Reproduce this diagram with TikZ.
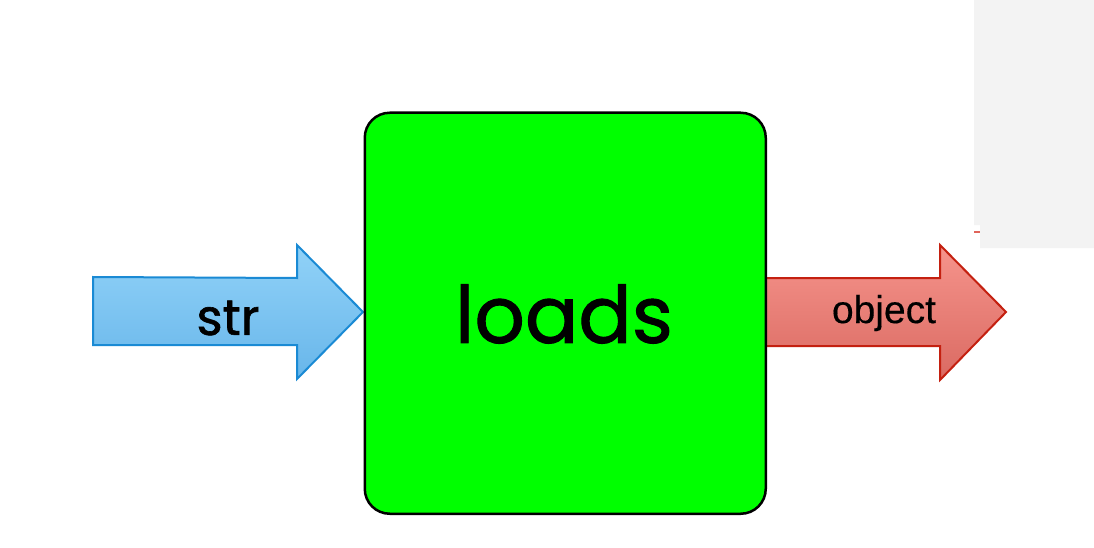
\documentclass[tikz,border=0pt]{standalone}
\usepackage{fontspec}
\newfontfamily\roundfont{Poppins}[FakeBold=1.2]
\newfontfamily\arialfont{Liberation Sans}[FakeBold=0.3]
\definecolor{boxgreen}{RGB}{0,255,0}
\definecolor{panelgray}{RGB}{243,243,243}
\definecolor{dashred}{RGB}{224,100,90}
\definecolor{blueline}{RGB}{26,138,212}
\definecolor{bluetop}{RGB}{145,210,248}
\definecolor{bluebot}{RGB}{104,182,234}
\definecolor{redline}{RGB}{196,32,16}
\definecolor{redtop}{RGB}{246,148,140}
\definecolor{redbot}{RGB}{218,106,98}
\begin{document}
\begin{tikzpicture}[x=1pt,y=-1pt,
  boxstyle/.style={draw=black,line width=2.5pt,fill=boxgreen,rounded corners=25pt},
  inarrow/.style={draw=blueline,line width=2pt,line join=miter,top color=bluetop,bottom color=bluebot},
  outarrow/.style={draw=redline,line width=2pt,line join=miter,top color=redtop,bottom color=redbot},
  lbl/.style={inner sep=0pt,text=black}]
\useasboundingbox (0,0) rectangle (1094,548);
% gray panel top right
\fill[panelgray] (974,0) -- (1094,0) -- (1094,248) -- (980,248) -- (980,225) -- (974,225) -- cycle;
\fill[dashred] (974,231) rectangle (980,233);
% input arrow
\path[inarrow] (93,277) -- (297,278) -- (297,245) -- (363,312) -- (297,379) -- (297,345) -- (93,345) -- cycle;
% output arrow
\path[outarrow] (763,278) -- (940,278) -- (940,245) -- (1006,312) -- (940,380) -- (940,346) -- (763,346) -- cycle;
% box
\node[boxstyle,minimum width=401pt,minimum height=401pt,anchor=north west] (box) at (363.5,111.5) {};
\node[lbl,font=\roundfont\fontsize{79}{90}\selectfont] (loads) at (564,314) {loads};
\node[lbl,font=\roundfont\fontsize{50}{56}\selectfont] (str) at (228,318) {str};
\node[lbl,font=\arialfont\fontsize{39}{44}\selectfont] (obj) at (884,313) {object};
\end{tikzpicture}
\end{document}
